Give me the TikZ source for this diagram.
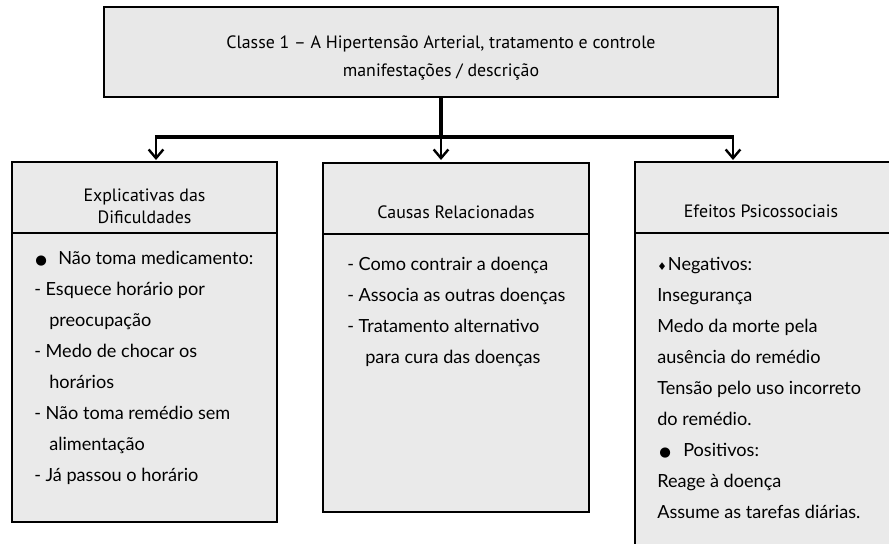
\documentclass[tikz,border=0pt]{standalone}
\usepackage{fontspec}
\setmainfont{Lato}
\newfontfamily\titlef{PT Sans}
\newfontfamily\symf{DejaVu Sans}
\usetikzlibrary{arrows.meta}
\definecolor{boxgray}{HTML}{EAEAEA}
\definecolor{topgray}{HTML}{E8E8E8}
\newlength\measlen
\newcommand\bigdot{{\symf\fontsize{10}{10}\selectfont ●}}
\newcommand\smalldiam{{\symf\fontsize{8}{8}\selectfont ♦}}
\begin{document}
\settowidth\measlen{\fontsize{10}{10}\selectfont Não toma medicamento:}
\pgfmathsetmacro\bodysize{10*146.25/\measlen}
\tikzset{
  box/.style={draw=black, line width=1.1pt, fill=boxgray, inner sep=0pt},
  topbox/.style={box, fill=topgray},
  conn/.style={line width=2.3pt},
  arr/.style={line width=1.8pt, -{Straight Barb[length=6.5pt,width=11pt,line width=1.8pt]}},
  ttl/.style={font=\titlef\fontsize{13.4}{16.5}\selectfont, align=center, inner sep=0pt},
  bodytxt/.style={font=\fontsize{\bodysize}{23.25}\selectfont, align=left, inner sep=0pt, anchor=north west},
  divider/.style={line width=1.1pt}
}
\begin{tikzpicture}[x=0.75pt,y=-0.75pt]
\useasboundingbox (0,0) rectangle (889,543);
\clip (0,0) rectangle (889,543);
% boxes
\node[topbox, minimum width=505.5pt, minimum height=67.5pt] (top) at (441,52) {};
\node[box, minimum width=198.75pt, minimum height=270pt] (left) at (144.5,342) {};
\node[box, minimum width=199.5pt, minimum height=261.75pt] (mid) at (456,337.5) {};
\node[box, minimum width=198.75pt, minimum height=298.5pt] (right) at (767.5,361) {};
% dividers
\draw[divider] (left.west |- {(0,233)}) -- (left.east |- {(0,233)});
\draw[divider] (mid.west |- {(0,234)}) -- (mid.east |- {(0,234)});
\draw[divider] (right.west |- {(0,233)}) -- (right.east |- {(0,233)});
% connectors
\coordinate (j) at (441,137);
\coordinate (jl) at (156,137);
\coordinate (jr) at (733,137);
\coordinate (al) at (156,160);
\coordinate (am) at (441,160);
\coordinate (ar) at (733,160);
\draw[conn] (top.south) -- (j);
\draw[conn] ([xshift=-0.8pt]jl) -- ([xshift=0.8pt]jr);
\draw[arr] (jl) -- (al);
\draw[arr] (j) -- (am);
\draw[arr] (jr) -- (ar);
% titles
\node[ttl, font=\titlef\fontsize{13.4}{20.5}\selectfont] (toptxt) at (441,58) {Classe 1 – A Hipertensão Arterial, tratamento e controle\\manifestações / descrição};
\node[ttl] (lt) at (144.5,206) {Explicativas das\\Dificuldades};
\node[ttl] (mt) at (456,212) {Causas Relacionadas};
\node[ttl] (rt) at (761,211) {Efeitos Psicossociais};
% bodies
\node[bodytxt] (lb) at (34,251) {\hspace*{0.75pt}\makebox[17.25pt][l]{\bigdot}Não toma medicamento:\\
- Esquece horário por\\
\hspace*{11.25pt}preocupação\\
- Medo de chocar os\\
\hspace*{11.25pt}horários\\
- Não toma remédio sem\\
\hspace*{11.25pt}alimentação\\
- Já passou o horário};
\node[bodytxt] (mb) at (347,257) {- Como contrair a doença\\
- Associa as outras doenças\\
- Tratamento alternativo\\
\hspace*{13.5pt}para cura das doenças};
\node[bodytxt] (rb) at (657,257) {\makebox[8pt][l]{\smalldiam}Negativos:\\
Insegurança\\
Medo da morte pela\\
ausência do remédio\\
Tensão pelo uso incorreto\\
do remédio.\\
\hspace*{1.5pt}\makebox[18pt][l]{\bigdot}Positivos:\\
Reage à doença\\
Assume as tarefas diárias.};
\end{tikzpicture}
\end{document}
